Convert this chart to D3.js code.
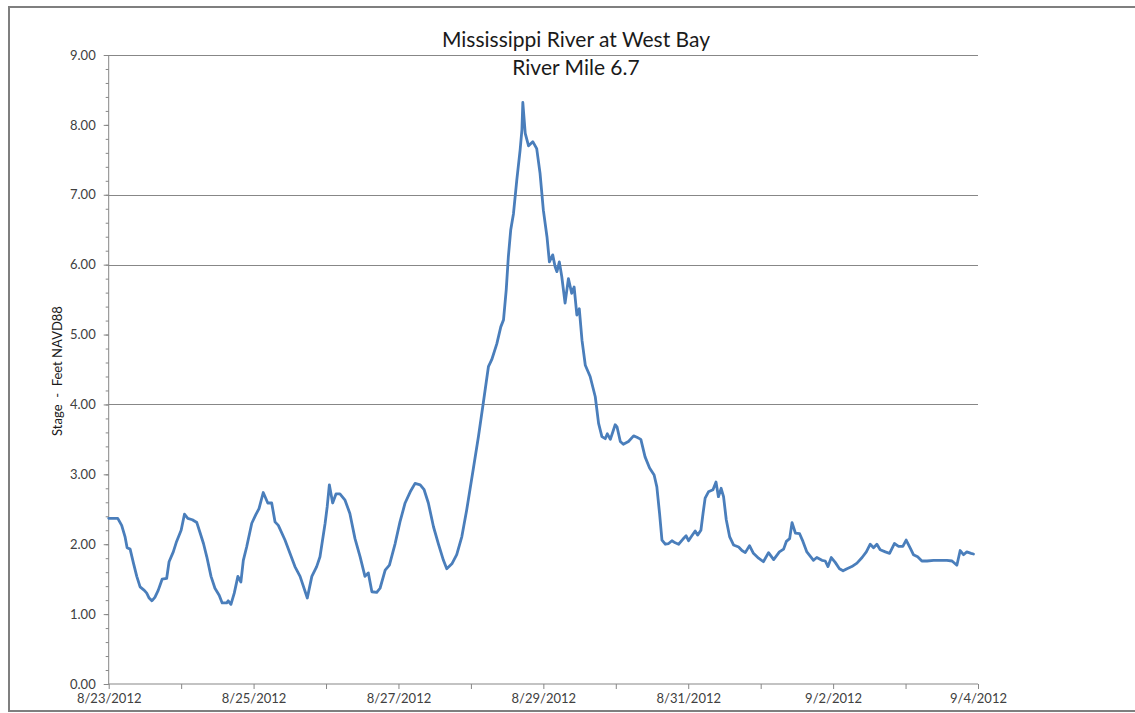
<!DOCTYPE html>
<html>
<head>
<meta charset="utf-8">
<script src="https://cdn.jsdelivr.net/npm/d3@7"></script>
<style>
  html, body { margin: 0; padding: 0; background: #fff; }
  svg { display: block; }
  text { font-family: Lato, "Open Sans", "Noto Sans", sans-serif; }
</style>
</head>
<body>
<svg id="chart" width="1135" height="713"></svg>
<script>
// ---- data (hours after 8/23/2012 00:00, stage in feet NAVD88) ----
const hours = [0,3.0,4.3,5.4,6.1,7.1,8.2,9.3,10.4,11.8,12.6,13.4,14.3,15.3,16.4,17.7,19.2,20.0,21.4,22.5,
  24.0,25.1,26.2,27.7,29.2,30.3,31.4,32.5,33.9,35.2,36.6,37.6,39.1,39.6,40.5,41.6,42.8,43.8,44.6,45.7,
  47.4,48.7,49.8,51.2,52.7,54.0,55.1,56.2,58.4,61.7,63.4,65.8,67.3,68.9,70.0,71.7,72.4,73.1,74.2,75.3,
  76.6,78.3,79.9,81.6,83.3,84.9,86.0,87.2,88.8,89.9,91.6,93.0,94.9,96.5,98.2,99.9,101.5,103.2,104.5,105.9,
  107.6,109.2,110.9,112.0,113.7,115.3,117.0,118.6,120.8,122.5,124.1,125.8,126.9,128.6,129.9,130.8,131.7,132.4,133.2,134.1,
  135.2,136.3,136.9,137.2,138.0,139.1,140.5,141.8,142.9,144.0,145.2,146.0,147.1,147.9,148.5,149.3,150.1,151.2,152.3,153.4,
  154.2,155.1,155.9,156.8,157.9,159.5,161.2,162.3,163.4,164.5,165.2,166.2,167.8,168.4,169.5,170.5,172.2,173.9,175.0,176.3,
  177.7,179.2,180.7,181.6,182.5,183.3,184.4,185.5,186.6,187.7,188.8,190.2,191.3,192.1,193.2,194.3,195.1,196.2,196.9,197.6,
  198.7,200.2,201.2,202.0,202.9,203.7,204.6,205.7,207.0,208.7,209.8,210.9,212.3,213.6,215.3,216.9,218.6,220.3,222.2,223.6,
  224.5,225.6,226.4,227.5,228.9,230.0,231.3,232.4,233.5,234.6,236.3,237.4,238.3,239.4,240.7,242.1,243.3,244.6,246.2,247.9,
  249.6,251.0,252.3,253.4,254.5,255.6,257.3,258.7,260.3,261.7,263.1,264.2,265.6,266.6,268.0,269.4,271.1,273.3,275.5,277.7,
  279.4,281.0,282.1,283.2,284.3,285.7,286.5];
const stage = [2.37,2.37,2.27,2.11,1.95,1.93,1.73,1.54,1.39,1.34,1.30,1.23,1.19,1.24,1.34,1.50,1.51,1.75,1.89,2.04,
  2.20,2.43,2.37,2.35,2.31,2.16,2.01,1.82,1.54,1.37,1.27,1.16,1.16,1.19,1.14,1.30,1.54,1.46,1.77,1.96,
  2.30,2.42,2.51,2.74,2.59,2.59,2.32,2.27,2.06,1.68,1.54,1.23,1.54,1.68,1.82,2.30,2.54,2.85,2.59,2.72,
  2.72,2.63,2.44,2.08,1.82,1.54,1.59,1.32,1.31,1.37,1.63,1.70,2.01,2.32,2.59,2.75,2.87,2.85,2.78,2.59,
  2.25,2.01,1.77,1.65,1.72,1.85,2.11,2.49,3.08,3.54,4.02,4.54,4.64,4.87,5.11,5.21,5.64,6.11,6.50,6.73,
  7.21,7.64,7.93,8.32,7.88,7.70,7.76,7.66,7.31,6.78,6.40,6.04,6.14,5.97,5.90,6.04,5.83,5.45,5.80,5.59,
  5.68,5.28,5.37,4.92,4.56,4.40,4.11,3.73,3.54,3.51,3.58,3.50,3.71,3.68,3.47,3.43,3.47,3.55,3.53,3.50,
  3.25,3.09,2.99,2.82,2.44,2.06,2.00,2.01,2.05,2.02,2.00,2.07,2.12,2.05,2.12,2.19,2.13,2.20,2.44,2.66,
  2.75,2.78,2.89,2.68,2.80,2.68,2.35,2.11,1.99,1.96,1.91,1.88,1.98,1.87,1.80,1.75,1.88,1.78,1.89,1.93,
  2.04,2.08,2.31,2.16,2.15,2.04,1.89,1.83,1.77,1.81,1.77,1.76,1.68,1.81,1.74,1.65,1.62,1.65,1.68,1.73,
  1.81,1.89,2.00,1.95,2.00,1.92,1.89,1.87,2.01,1.97,1.97,2.06,1.94,1.85,1.82,1.76,1.76,1.77,1.77,1.77,
  1.76,1.70,1.91,1.85,1.89,1.87,1.86];
const yTicks = [0,1,2,3,4,5,6,7,8,9];
const gridValues = [9,7,6,4];
const startDate = Date.UTC(2012,7,23);
const endDate = Date.UTC(2012,8,4);
const titleLines = ["Mississippi River at West Bay", "River Mile 6.7"];
const yTitle = "Stage  -  Feet NAVD88";

(function () {
  const svg = d3.select("#chart");
  const mL = 108.7, mR = 978, mT = 55, mB = 684;

  const x = d3.scaleUtc().domain([new Date(startDate), new Date(endDate)]).range([mL, mR]);
  const y = d3.scaleLinear().domain([0, 9]).range([mB, mT]);

  const n = Math.min(hours.length, stage.length);
  const data = d3.range(n).map(i => ({ t: new Date(startDate + hours[i] * 3600e3), v: stage[i] }));

  // outer frame
  svg.append("path")
    .attr("d", "M1136,7 H9 V711 H1136")
    .attr("fill", "none").attr("stroke", "#7f7f7f").attr("stroke-width", 2);

  // gridlines
  svg.append("g").selectAll("line").data(gridValues).join("line")
    .attr("x1", mL).attr("x2", mR)
    .attr("y1", d => Math.round(y(d)) + 0.5).attr("y2", d => Math.round(y(d)) + 0.5)
    .attr("stroke", "#878787").attr("stroke-width", 1);

  // y axis minor ticks
  const minor = d3.range(0, 46).map(i => +(i * 0.2).toFixed(1));
  svg.append("g").attr("transform", `translate(${mL},0)`)
    .call(d3.axisLeft(y).tickValues(minor).tickSize(3).tickFormat(""))
    .call(g => g.select(".domain").remove())
    .call(g => g.selectAll("line").attr("stroke", "#878787"));

  // y axis major
  const yAxis = svg.append("g").attr("transform", `translate(${mL},0)`)
    .call(d3.axisLeft(y).tickValues(yTicks).tickSize(5).tickPadding(8).tickFormat(d3.format(".2f")));
  yAxis.select(".domain").attr("stroke", "#878787").attr("d", `M0,${mT}V${mB}`);
  yAxis.selectAll("line").attr("stroke", "#878787");
  yAxis.selectAll("text").attr("font-size", 13).attr("fill", "#404040")
    .attr("font-family", "Lato, 'Open Sans', sans-serif");

  // x axis
  const dayTicks = d3.utcDay.range(new Date(startDate), new Date(endDate + 1));
  const xAxis = svg.append("g").attr("transform", `translate(0,${mB})`)
    .call(d3.axisBottom(x).tickValues(dayTicks).tickSize(5).tickPadding(5)
      .tickFormat((d, i) => i % 2 === 0 ? d3.utcFormat("%-m/%-d/%Y")(d) : ""));
  xAxis.select(".domain").attr("stroke", "#878787").attr("d", `M${mL},0H${mR}`);
  xAxis.selectAll("line").attr("stroke", "#878787");
  xAxis.selectAll("text").attr("font-size", 13).attr("fill", "#404040")
    .attr("font-family", "Lato, 'Open Sans', sans-serif");

  // line
  svg.append("path").datum(data)
    .attr("fill", "none").attr("stroke", "#4a7ebb").attr("stroke-width", 2.8)
    .attr("stroke-linejoin", "round").attr("stroke-linecap", "round")
    .attr("d", d3.line().x(d => x(d.t)).y(d => y(d.v)));

  // title
  svg.append("g").selectAll("text").data(titleLines).join("text")
    .attr("x", 576).attr("y", (d, i) => 47 + i * 28)
    .attr("text-anchor", "middle").attr("font-size", 21).attr("fill", "#1a1a1a")
    .text(d => d);

  // y title
  svg.append("text")
    .attr("transform", "translate(62,371) rotate(-90)")
    .attr("text-anchor", "middle").attr("font-size", 13).attr("fill", "#1a1a1a")
    .style("white-space", "pre")
    .text(yTitle);
})();
</script>
</body>
</html>
